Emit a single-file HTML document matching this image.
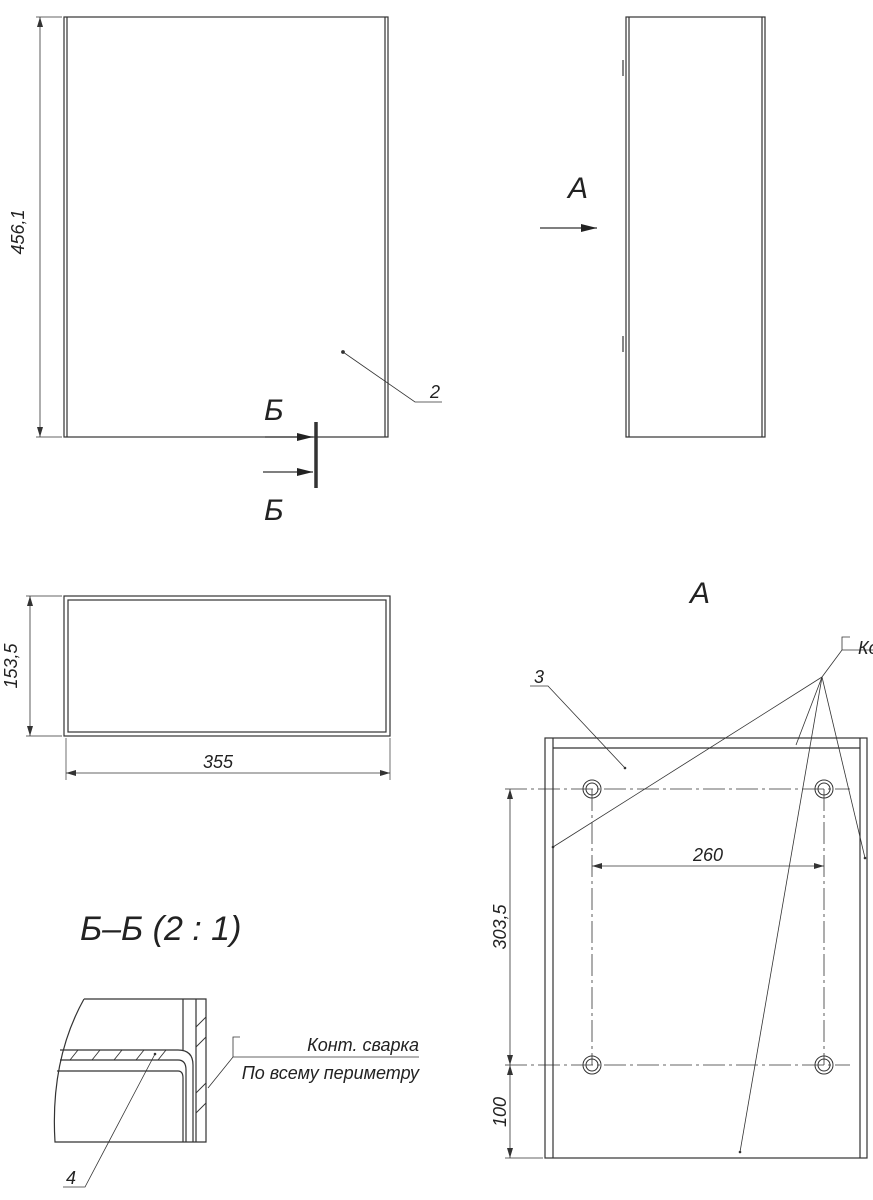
<!DOCTYPE html>
<html><head><meta charset="utf-8"><style>
body{margin:0;background:#fff}
svg{display:block}
text{font-family:"Liberation Sans","DejaVu Sans",sans-serif;font-style:italic;fill:#222}
</style></head><body>
<svg width="873" height="1200" viewBox="0 0 873 1200" xmlns="http://www.w3.org/2000/svg">
<defs>
<marker id="ar" viewBox="0 0 10 6" refX="10" refY="3" markerWidth="10" markerHeight="6" orient="auto-start-reverse" markerUnits="userSpaceOnUse"><path d="M0,0L10,3L0,6z" fill="#333"/></marker>
<marker id="ab" viewBox="0 0 16 8" refX="16" refY="4" markerWidth="16" markerHeight="8" orient="auto" markerUnits="userSpaceOnUse"><path d="M0,0L16,4L0,8z" fill="#222"/></marker>
</defs>
<g stroke="#333" fill="none" stroke-width="1.2">
<rect x="64" y="17" width="324" height="420"/>
<line x1="67" y1="17" x2="67" y2="437"/><line x1="385" y1="17" x2="385" y2="437"/>
<line x1="36" y1="17" x2="62" y2="17" stroke-width="0.7"/><line x1="36" y1="437" x2="62" y2="437" stroke-width="0.7"/>
<line x1="40" y1="17" x2="40" y2="437" stroke-width="0.8" marker-start="url(#ar)" marker-end="url(#ar)"/>
<circle cx="343" cy="352" r="1.3" fill="#333"/>
<polyline points="343,352 415,402 442,402" stroke-width="0.8"/>
<line x1="316" y1="422" x2="316" y2="488" stroke-width="3.5"/>
<line x1="265" y1="437" x2="313" y2="437" marker-end="url(#ab)"/>
<line x1="263" y1="472" x2="313" y2="472" marker-end="url(#ab)"/>
<rect x="626" y="17" width="139" height="420"/>
<line x1="629" y1="17" x2="629" y2="437"/><line x1="762" y1="17" x2="762" y2="437"/>
<line x1="623" y1="60" x2="623" y2="76"/><line x1="623" y1="336" x2="623" y2="352"/>
<line x1="540" y1="228" x2="597" y2="228" marker-end="url(#ab)"/>
<rect x="64" y="596" width="326" height="140"/>
<rect x="68" y="600" width="318" height="132"/>
<line x1="26" y1="596" x2="62" y2="596" stroke-width="0.7"/><line x1="26" y1="736" x2="62" y2="736" stroke-width="0.7"/>
<line x1="30" y1="596" x2="30" y2="736" stroke-width="0.8" marker-start="url(#ar)" marker-end="url(#ar)"/>
<line x1="66" y1="738" x2="66" y2="780" stroke-width="0.7"/><line x1="390" y1="738" x2="390" y2="780" stroke-width="0.7"/>
<line x1="66" y1="773" x2="390" y2="773" stroke-width="0.8" marker-start="url(#ar)" marker-end="url(#ar)"/>
<rect x="545" y="738" width="322" height="420"/>
<line x1="553" y1="738" x2="553" y2="1158"/><line x1="860" y1="738" x2="860" y2="1158"/>
<line x1="553" y1="748" x2="860" y2="748"/>
<g stroke-width="0.8" stroke-dasharray="22,4,3,4">
<line x1="505" y1="789" x2="850" y2="789"/><line x1="505" y1="1065" x2="850" y2="1065"/>
<line x1="592" y1="789" x2="592" y2="1065"/><line x1="824" y1="789" x2="824" y2="1065"/>
</g>
<g stroke-width="1">
<circle cx="592" cy="789" r="9"/><circle cx="592" cy="789" r="6"/>
<circle cx="824" cy="789" r="9"/><circle cx="824" cy="789" r="6"/>
<circle cx="592" cy="1065" r="9"/><circle cx="592" cy="1065" r="6"/>
<circle cx="824" cy="1065" r="9"/><circle cx="824" cy="1065" r="6"/>
</g>
<line x1="510" y1="789" x2="510" y2="1065" stroke-width="0.8" marker-start="url(#ar)" marker-end="url(#ar)"/>
<line x1="510" y1="1065" x2="510" y2="1158" stroke-width="0.8" marker-start="url(#ar)" marker-end="url(#ar)"/>
<line x1="505" y1="1158" x2="543" y2="1158" stroke-width="0.7"/>
<line x1="592" y1="866" x2="824" y2="866" stroke-width="0.8" marker-start="url(#ar)" marker-end="url(#ar)"/>
<g stroke-width="0.8">
<polyline points="530,686 548,686 625,768"/>
<line x1="822" y1="677" x2="553" y2="847"/>
<line x1="822" y1="677" x2="796" y2="745"/>
<line x1="822" y1="677" x2="740" y2="1152"/>
<line x1="822" y1="677" x2="865" y2="858"/>
<polyline points="822,677 842,650 873,650"/>
<polyline points="842,650 842,637 850,637"/>
</g>
<g fill="#333" stroke="none"><circle cx="625" cy="768" r="1.3"/><circle cx="553" cy="847" r="1.3"/><circle cx="740" cy="1152" r="1.3"/><circle cx="865" cy="858" r="1.3"/></g>
<path d="M84,999 L206,999 L206,1142 L55,1142 Q50,1060 84,999"/>
<line x1="183" y1="999" x2="183" y2="1050"/>
<line x1="196" y1="999" x2="196" y2="1142"/>
<path d="M60,1050 L178,1050 Q193,1050 193,1065 L193,1142"/>
<path d="M60,1060 L178,1060 Q186,1060 186,1070 L186,1142"/>
<path d="M57,1071 L178,1071 Q183,1071 183,1078 L183,1142"/>
<g stroke-width="0.9">
<line x1="70" y1="1060" x2="78" y2="1050"/><line x1="92" y1="1060" x2="100" y2="1050"/><line x1="114" y1="1060" x2="122" y2="1050"/><line x1="136" y1="1060" x2="144" y2="1050"/><line x1="158" y1="1060" x2="166" y2="1050"/>
<line x1="196" y1="1027" x2="206" y2="1017"/><line x1="196" y1="1047" x2="206" y2="1037"/><line x1="196" y1="1093" x2="206" y2="1083"/><line x1="196" y1="1113" x2="206" y2="1103"/>
</g>
<polyline points="155,1054 85,1187 63,1187" stroke-width="0.8"/>
<polyline points="208,1088 233,1057 419,1057" stroke-width="0.8"/>
<polyline points="233,1057 233,1037 240,1037" stroke-width="0.8"/>
</g>
<circle cx="155" cy="1054" r="1.3" fill="#333"/>
<g font-size="18">
<text transform="translate(24,232) rotate(-90)" text-anchor="middle">456,1</text>
<text transform="translate(17,666) rotate(-90)" text-anchor="middle">153,5</text>
<text x="218" y="768" text-anchor="middle">355</text>
<text x="708" y="861" text-anchor="middle">260</text>
<text transform="translate(506,927) rotate(-90)" text-anchor="middle">303,5</text>
<text transform="translate(506,1112) rotate(-90)" text-anchor="middle">100</text>
<text x="430" y="398">2</text>
<text x="534" y="683">3</text>
<text x="66" y="1184">4</text>
<text x="858" y="654">Ко</text>
<text x="419" y="1051" text-anchor="end" font-style="normal">Конт. сварка</text>
<text x="419" y="1079" text-anchor="end" font-style="normal">По всему периметру</text>
</g>
<g font-size="30">
<text x="264" y="420">Б</text><text x="264" y="520">Б</text>
<text x="568" y="198">A</text>
<text x="690" y="603">A</text>
<text x="80" y="940" font-size="34">Б–Б (2 : 1)</text>
</g>
</svg>
</body></html>
